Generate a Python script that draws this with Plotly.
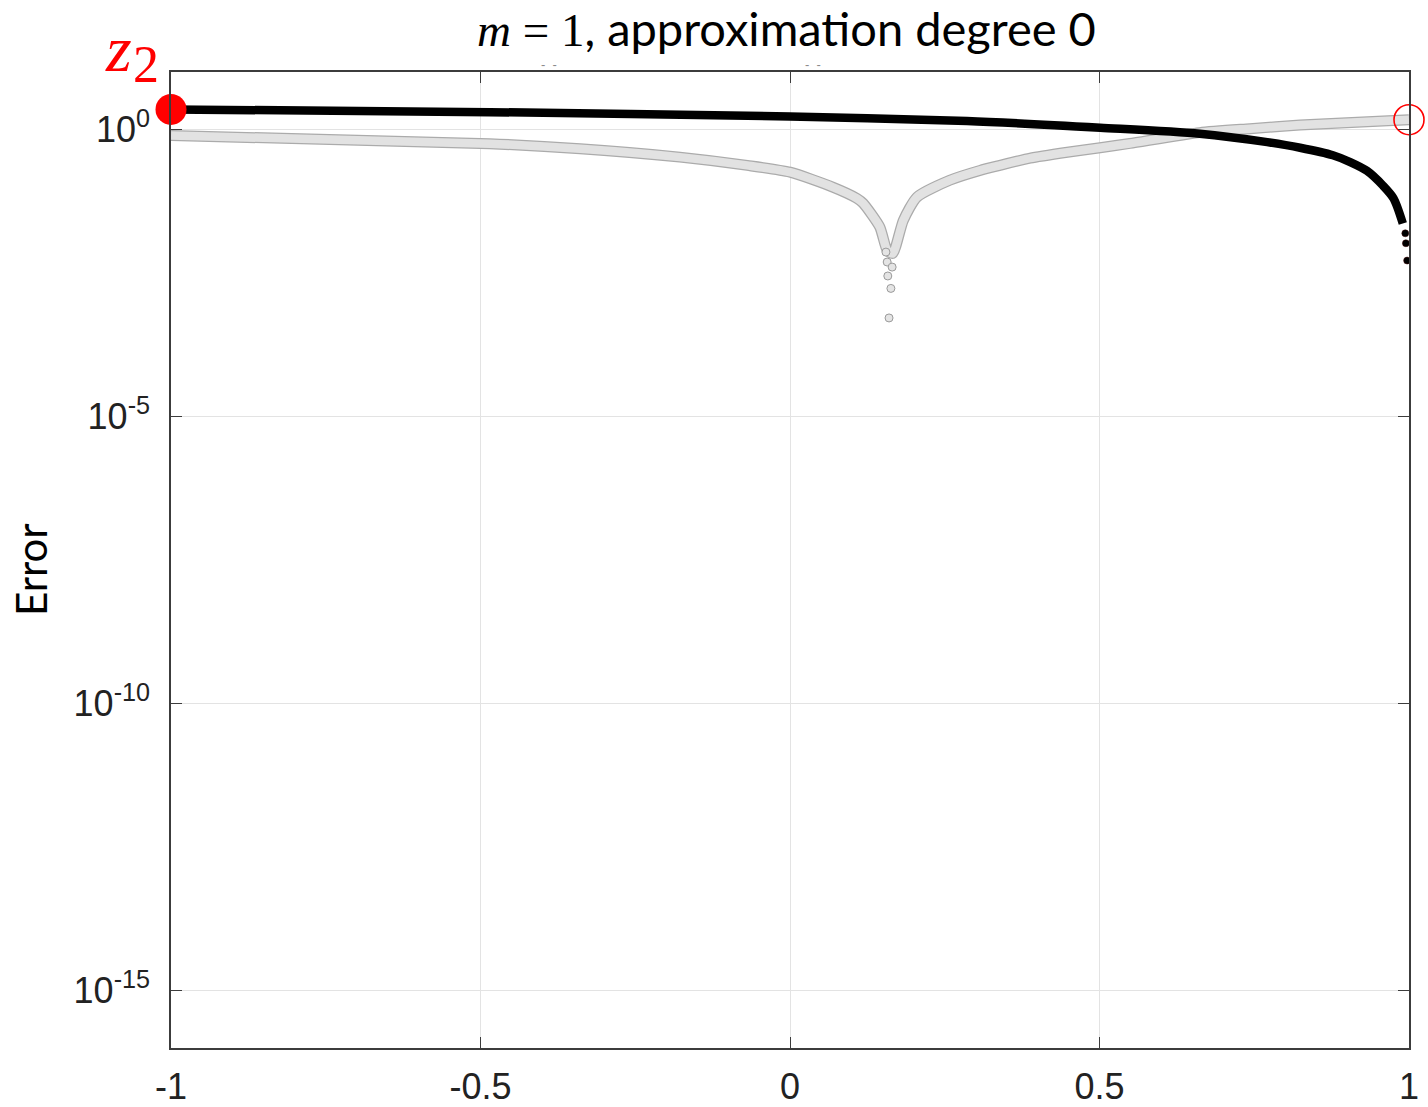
import plotly.graph_objects as go

# ---- data ----
black_x = [-1.0, -0.485, 0.0, 0.286, 0.501, 0.662, 0.771, 0.824, 0.877, 0.905, 0.932, 0.958, 0.975, 0.990]
black_y = [2.23, 2.0, 1.68, 1.40, 1.07, 0.84, 0.60, 0.48, 0.355, 0.27, 0.19, 0.105, 0.063, 0.023]
black_tail_x = [0.994, 0.995, 0.997]
black_tail_y = [0.0155, 0.0104, 0.0052]

gray_x = [-1.0, -0.485, -0.339, -0.178, -0.069, 0.0, 0.069, 0.108, 0.118, 0.145, 0.157,
          0.166, 0.183, 0.205, 0.258, 0.307, 0.339, 0.388, 0.448, 0.501, 0.549, 0.662, 0.743, 0.824, 1.0]
gray_y = [0.785, 0.563, 0.461, 0.329, 0.236, 0.180, 0.099, 0.063, 0.052, 0.020, 0.0078,
          0.0069, 0.026, 0.066, 0.13, 0.193, 0.236, 0.316, 0.40, 0.48, 0.57, 0.88, 1.03, 1.19, 1.476]
dip_x = [0.155, 0.157, 0.165, 0.158, 0.163, 0.160]
dip_y = [0.0073, 0.0049, 0.0040, 0.0028, 0.0017, 0.00052]

start_pt_x = [-1.0]
start_pt_y = [2.23]
end_pt_x = [1.0]
end_pt_y = [1.476]

x_tickvals = [-1, -0.5, 0, 0.5, 1]
x_ticktext = ["-1", "-0.5", "0", "0.5", "1"]
y_tickvals = [1, 1e-5, 1e-10, 1e-15]
y_exponents = ["0", "-5", "-10", "-15"]
y_ticktext = ["10<sup>%s</sup>" % e for e in y_exponents]

W, H = 1428, 1107
L, R, T, B = 171, 19, 72, 59
PW, PH = W - L - R, H - T - B


def px(xp):
    return (xp - L) / PW


def py(yp):
    return (H - B - yp) / PH


fig = go.Figure()

# gray curve: darker edge + light fill
fig.add_trace(go.Scatter(x=gray_x, y=gray_y, mode="lines",
                         line=dict(color="#ababab", width=11, shape="spline", smoothing=0.6),
                         hoverinfo="skip", showlegend=False))
fig.add_trace(go.Scatter(x=gray_x, y=gray_y, mode="lines",
                         line=dict(color="#e2e2e2", width=8.5, shape="spline", smoothing=0.6),
                         hoverinfo="skip", showlegend=False))
fig.add_trace(go.Scatter(x=dip_x, y=dip_y, mode="markers",
                         marker=dict(size=8, color="#e4e4e4", line=dict(color="#9a9a9a", width=1)),
                         showlegend=False))

# black curve
fig.add_trace(go.Scatter(x=black_x, y=black_y, mode="lines",
                         line=dict(color="#000000", width=8.5, shape="spline", smoothing=0.8),
                         showlegend=False))
fig.add_trace(go.Scatter(x=black_tail_x, y=black_tail_y, mode="markers",
                         marker=dict(size=7, color="#000000", line=dict(color="#3a0000", width=0.5)),
                         showlegend=False))

# red points
fig.add_trace(go.Scatter(x=start_pt_x, y=start_pt_y, mode="markers", cliponaxis=False,
                         marker=dict(size=31, color="#ff0000"), showlegend=False))
fig.add_trace(go.Scatter(x=end_pt_x, y=end_pt_y, mode="markers", cliponaxis=False,
                         marker=dict(size=30, color="rgba(0,0,0,0)", line=dict(color="#ff0000", width=1.6)),
                         showlegend=False))

axis_common = dict(showline=True, mirror="ticks", linecolor="#3c3c3c", linewidth=1.5,
                   ticks="inside", ticklen=11, tickwidth=1.3, tickcolor="#3c3c3c",
                   showgrid=True, gridcolor="#e3e3e3", gridwidth=1.2, zeroline=False,
                   tickfont=dict(family="Liberation Sans, Arial, sans-serif", size=36, color="#222222"))

fig.update_xaxes(range=[-1, 1], tickvals=x_tickvals, ticktext=x_ticktext,
                 ticklabelstandoff=6, **axis_common)
fig.update_yaxes(type="log", range=[-16, 1], tickvals=y_tickvals, ticktext=y_ticktext,
                 ticklabelstandoff=12, **axis_common)

annotations = [
    dict(text="<span style=\"font-family:Liberation Serif\"><i>m</i> = 1</span>, approximation degree 0",
         x=px(786), y=py(28), xref="paper", yref="paper", xanchor="center", yanchor="middle",
         showarrow=False, font=dict(family="Lato, sans-serif", size=47, color="#000000")),
    dict(text="Error", textangle=-90, x=px(31), y=py(570), xref="paper", yref="paper",
         xanchor="center", yanchor="middle", showarrow=False,
         font=dict(family="Lato, sans-serif", size=42, color="#000000")),
    dict(text="<i>z</i>", x=px(118), y=py(48), xref="paper", yref="paper",
         xanchor="center", yanchor="middle", showarrow=False,
         font=dict(family="Liberation Serif, serif", size=66, color="#ff0000")),
    dict(text="2", x=px(146), y=py(64), xref="paper", yref="paper",
         xanchor="center", yanchor="middle", showarrow=False,
         font=dict(family="Liberation Serif, serif", size=52, color="#ff0000")),
    dict(text="-  -", x=px(549), y=py(64), xref="paper", yref="paper",
         xanchor="center", yanchor="middle", showarrow=False,
         font=dict(family="Liberation Sans", size=13, color="#8a8a8a")),
    dict(text="-  -", x=px(813), y=py(64), xref="paper", yref="paper",
         xanchor="center", yanchor="middle", showarrow=False,
         font=dict(family="Liberation Sans", size=13, color="#8a8a8a")),
]

fig.update_layout(width=W, height=H, margin=dict(l=L, r=R, t=T, b=B, autoexpand=False),
                  plot_bgcolor="#ffffff", paper_bgcolor="#ffffff", annotations=annotations,
                  showlegend=False)

fig.write_html("out.html")
